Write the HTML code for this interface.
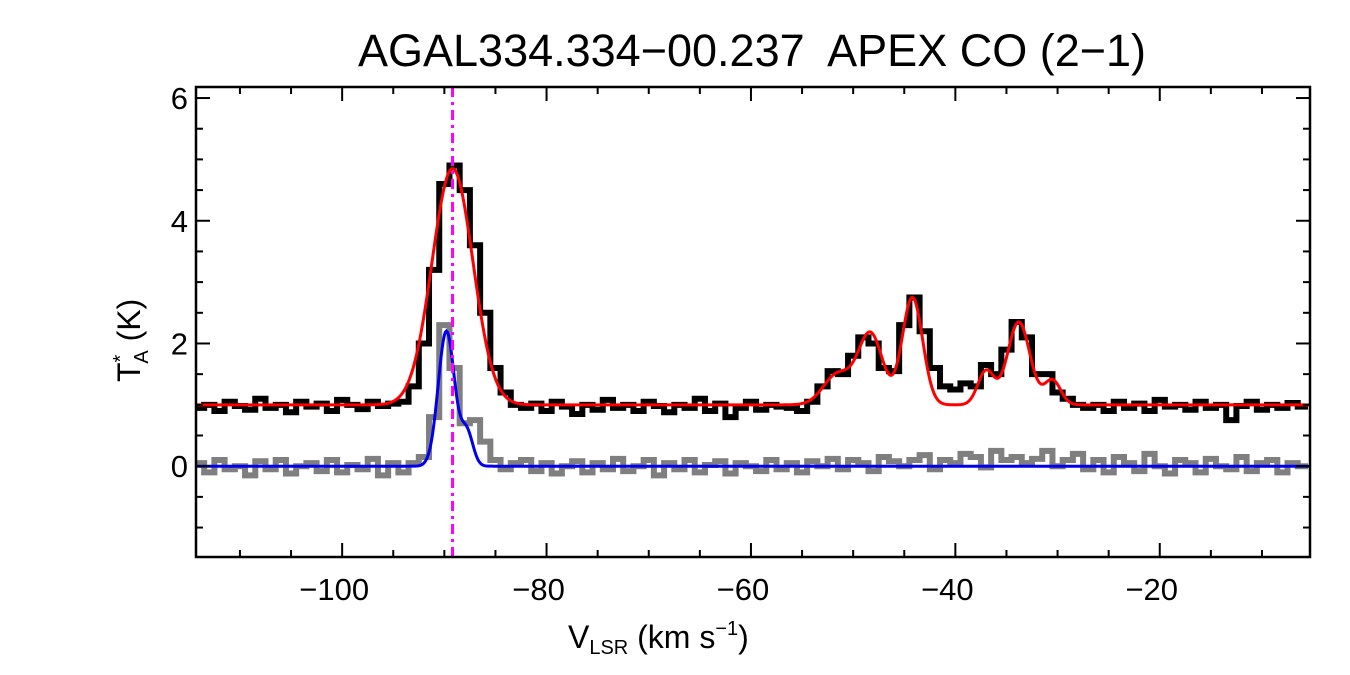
<!DOCTYPE html>
<html><head><meta charset="utf-8"><style>
body{margin:0;background:#fff}
svg{display:block;font-family:"Liberation Sans",sans-serif}
</style></head><body>
<svg id="chart" width="1350" height="675" viewBox="0 0 1350 675">
<text x="752" y="66" text-anchor="middle" font-size="45">AGAL334.334−00.237&#160; APEX CO (2−1)</text>
<g id="plot"></g>
<text x="568" y="648" font-size="32">V<tspan font-size="20" dy="6">LSR</tspan><tspan dy="-6"> (km s</tspan><tspan font-size="20" dy="-13">−1</tspan><tspan dy="13">)</tspan></text>
<text transform="translate(140,382) rotate(-90)" font-size="32">T<tspan font-size="20" dy="-13">*</tspan><tspan font-size="20" dx="-9" dy="21">A</tspan><tspan dy="-8"> (K)</tspan></text>
</svg>
<script>
const v0 = -114;
const blackData = [0.95,1.0,0.9,1.05,0.98,0.92,1.1,0.95,1.0,0.88,1.05,0.97,1.02,0.9,1.08,1.0,0.93,1.05,0.98,1.02,
1.05,1.3,2.0,3.2,4.6,4.9,4.5,3.6,2.5,1.6,1.2,1.0,
0.95,1.02,0.9,1.05,0.97,0.85,1.0,0.92,1.08,0.95,1.0,0.9,1.05,0.98,0.88,1.0,0.95,1.1,0.9,1.02,0.8,0.95,1.05,0.92,1.0,0.97,
0.95,0.9,1.05,1.3,1.55,1.5,1.8,2.1,2.0,1.6,1.55,2.3,2.75,2.2,1.6,1.3,1.25,1.35,1.3,1.65,1.5,1.9,2.35,2.1,1.5,1.5,1.2,1.1,1.0,0.95,
1.0,0.9,1.05,0.95,1.02,0.9,1.08,0.97,1.0,0.92,1.05,0.95,1.0,0.75,0.98,1.05,0.92,1.0,0.95,1.03,0.97];
const grayData = [0.05,-0.1,0.1,-0.05,0.0,-0.15,0.08,-0.05,0.1,-0.12,0.0,0.05,-0.08,0.1,-0.1,0.02,-0.05,0.12,-0.15,0.05,
-0.1,0.05,0.15,0.8,2.3,1.6,0.7,0.75,0.4,0.1,-0.05,0.05,
0.1,-0.08,0.05,-0.12,0.0,0.08,-0.1,0.05,-0.05,0.12,-0.08,0.0,0.1,-0.15,0.05,-0.05,0.1,-0.1,0.02,0.08,-0.12,0.05,0.0,-0.08,0.1,-0.05,
0.05,-0.1,0.08,0.0,0.12,-0.05,0.1,0.05,-0.08,0.15,0.08,0.0,0.1,0.18,-0.05,0.1,0.05,0.2,0.15,-0.02,0.25,0.1,0.15,0.05,0.12,0.25,0.0,0.1,0.2,-0.05,
0.1,-0.1,0.15,0.05,-0.08,0.2,0.0,-0.12,0.1,0.05,-0.1,0.12,0.0,-0.05,0.15,-0.08,0.05,0.1,-0.1,0.05,0.0];
const redCenters = [-89.2,-51.5,-48.3,-44.2,-37.0,-33.8,-30.5];
const redAmps = [3.85,0.5,1.15,1.75,0.55,1.35,0.4];
const redSigmas = [2.0,1.4,1.2,1.0,0.8,1.1,0.8];
const redBase = 1.0;
const blueCenters = [-89.8,-87.8];
const blueAmps = [2.2,0.55];
const blueSigmas = [0.8,0.6];
const markerV = -89.2;
const xTicks = [-100,-80,-60,-40,-20];
const yTicks = [0,2,4,6];

const X0=196,X1=1310,Y0=87,Y1=557, xmin=-114.3,xmax=-5.3,ymin=-1.48,ymax=6.18;
const sx=v=>X0+(v-xmin)/(xmax-xmin)*(X1-X0);
const sy=t=>Y1-(t-ymin)/(ymax-ymin)*(Y1-Y0);
const NS='http://www.w3.org/2000/svg';
const g=document.getElementById('plot');
function mk(tag,at){const e=document.createElementNS(NS,tag);for(const k in at)e.setAttribute(k,at[k]);g.appendChild(e);return e;}
const cp=mk('clipPath',{id:'cp'});
const r=document.createElementNS(NS,'rect');r.setAttribute('x',X0);r.setAttribute('y',Y0);r.setAttribute('width',X1-X0);r.setAttribute('height',Y1-Y0);cp.appendChild(r);

function stepPath(data){let d='';data.forEach((t,i)=>{const a=sx(v0+i-0.5),b=sx(v0+i+0.5),y=sy(t);d+=(i?'L':'M')+a+','+y+'L'+b+','+y;});return d;}
function model(c,a,s,base,v){let t=base;for(let i=0;i<c.length;i++)t+=a[i]*Math.exp(-0.5*((v-c[i])/s[i])**2);return t;}
function curvePath(c,a,s,base){let d='';for(let v=xmin;v<=xmax;v+=0.1){d+=(d?'L':'M')+sx(v)+','+sy(model(c,a,s,base,v));}return d;}

let e;
e=mk('path',{d:stepPath(grayData),fill:'none',stroke:'#7f7f7f','stroke-width':6,'clip-path':'url(#cp)'});


e=mk('path',{d:stepPath(blackData),fill:'none',stroke:'#000','stroke-width':6,'clip-path':'url(#cp)'});


e=mk('path',{d:curvePath(redCenters,redAmps,redSigmas,redBase),fill:'none',stroke:'#f00','stroke-width':3,'clip-path':'url(#cp)'});


e=mk('path',{d:curvePath(blueCenters,blueAmps,blueSigmas,0),fill:'none',stroke:'#0000ee','stroke-width':3,'clip-path':'url(#cp)'});


e=mk('line',{x1:sx(markerV),x2:sx(markerV),y1:Y0,y2:Y1,stroke:'#f0f','stroke-width':3,'stroke-dasharray':'10,5,3,5'});


e=mk('rect',{x:X0,y:Y0,width:X1-X0,height:Y1-Y0,fill:'none',stroke:'#000','stroke-width':2.5});


for(let v=-110;v<=-10;v+=5){const maj=v%20===0;const L=maj?14:7;
 mk('line',{x1:sx(v),x2:sx(v),y1:Y1,y2:Y1-L,stroke:'#000','stroke-width':2});
 mk('line',{x1:sx(v),x2:sx(v),y1:Y0,y2:Y0+L,stroke:'#000','stroke-width':2});}
xTicks.forEach(v=>{e=mk('text',{x:sx(v)-8,y:600,'text-anchor':'middle','font-size':31});e.textContent='−'+Math.abs(v);

});
for(let t=-1;t<=6;t+=0.5){const maj=t%2===0;const L=maj?14:7;
 mk('line',{x1:X0,x2:X0+L,y1:sy(t),y2:sy(t),stroke:'#000','stroke-width':2});
 mk('line',{x1:X1,x2:X1-L,y1:sy(t),y2:sy(t),stroke:'#000','stroke-width':2});}
yTicks.forEach(t=>{e=mk('text',{x:188,y:sy(t)+11,'text-anchor':'end','font-size':31});e.textContent=t;

});
</script>
</body></html>
